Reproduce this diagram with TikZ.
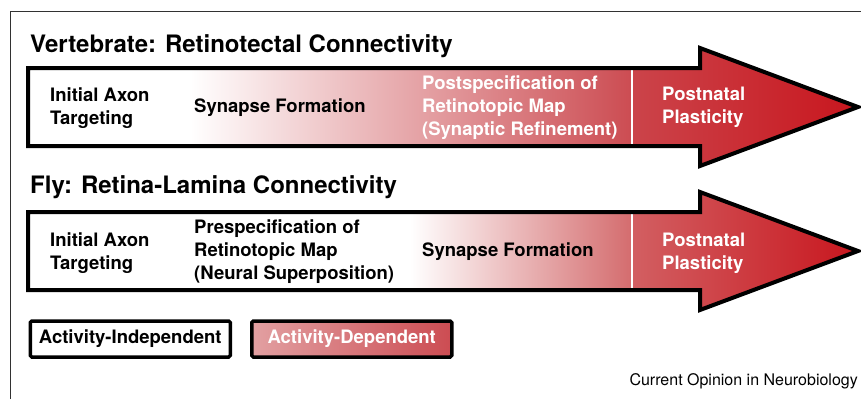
\documentclass[tikz,border=0pt]{standalone}
\usepackage{fontspec}
\setmainfont{TeX Gyre Heros}
\usetikzlibrary{positioning}

\definecolor{palered}{RGB}{226,160,162}
\definecolor{midred}{RGB}{204,76,82}
\definecolor{softred}{RGB}{212,108,110}
\definecolor{deepred}{RGB}{200,22,30}
\definecolor{framegray}{RGB}{50,50,50}

\begin{document}
\begin{tikzpicture}[x=1pt, y=-1pt,
    title/.style={anchor=west, inner sep=0pt, font=\bfseries\fontsize{24}{28}\selectfont},
    stage/.style={anchor=west, align=left, inner sep=0pt, font=\bfseries\fontsize{18.5}{23}\selectfont},
    legend/.style={draw, line width=3.5pt, rounded corners=1.5pt, minimum width=200pt, minimum height=36pt,
        inner sep=0pt, font=\bfseries\fontsize{18.5}{22}\selectfont}]
    \useasboundingbox (0,0) rectangle (861,399);
    \draw[framegray, line width=1pt] (10,399) -- (10,11) -- (861,11);

    % the two time-line arrows
    \foreach \yc/\ws/\mc in {107/190/midred, 251/410/softred} {
        \begin{scope}
            \clip (28,\yc-39) -- (700,\yc-39) -- (700,\yc-59) -- (858,\yc) -- (700,\yc+59) -- (700,\yc+39) -- (28,\yc+39) -- cycle;
            \fill[white] (28,\yc-60) rectangle (\ws,\yc+60);
            \shade[left color=white, right color=\mc] (\ws,\yc-60) rectangle (632,\yc+60);
            \shade[left color=\mc!85!deepred, right color=deepred] (632,\yc-60) rectangle (858,\yc+60);
        \end{scope}
        \draw[white, line width=2.5pt] (632,\yc-37) -- (632,\yc+37);
        \draw[line width=4pt, miter limit=10] (28,\yc-39) -- (700,\yc-39) -- (700,\yc-59) -- (858,\yc) -- (700,\yc+59) -- (700,\yc+39) -- (28,\yc+39) -- cycle;
    }

    \node[title] (verttitle) at (30,46) {Vertebrate: Retinotectal Connectivity};
    \node[stage] (vinit) at (50,108) {Initial Axon\\Targeting};
    \node[stage] (vsyn) at (194,108) {Synapse Formation};
    \node[stage, text=white] (vpost) at (422,107.5) {Postspecification of\\Retinotopic Map\\(Synaptic Refinement)};
    \node[stage, text=white] (vplast) at (662,107.5) {Postnatal\\Plasticity};

    \node[title] (flytitle) at (30,187) {Fly: Retina-Lamina Connectivity};
    \node[stage] (finit) at (50,253) {Initial Axon\\Targeting};
    \node[stage] (fpre) at (194,252) {Prespecification of\\Retinotopic Map\\(Neural Superposition)};
    \node[stage] (fsyn) at (422,252) {Synapse Formation};
    \node[stage, text=white] (fplast) at (662,253) {Postnatal\\Plasticity};

    % legend
    \node[legend, anchor=west, fill=white] (indep) at (28.5,339) {Activity-Independent};
    \node[legend, right=18pt of indep, text=white, left color=palered, right color=midred] (dep) {Activity-Dependent};

    \node[anchor=east, inner sep=0pt, font=\fontsize{16}{18}\selectfont] (credit) at (858,381) {Current Opinion in Neurobiology};
\end{tikzpicture}
\end{document}
